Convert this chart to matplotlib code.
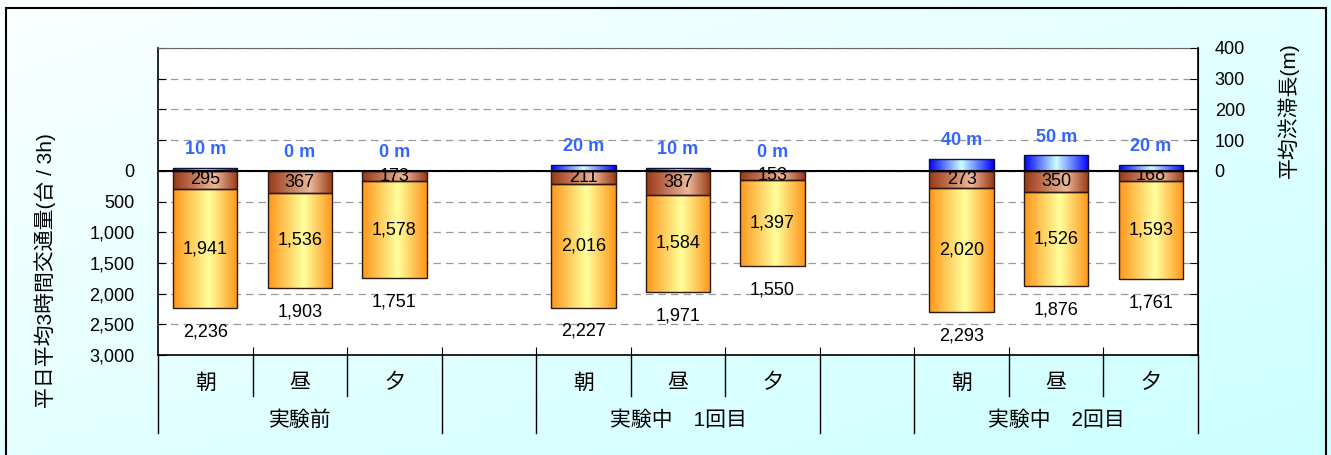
import numpy as np
import matplotlib
matplotlib.use('Agg')
import matplotlib.pyplot as plt
import matplotlib.transforms as mtransforms
from matplotlib.colors import LinearSegmentedColormap
from matplotlib.patches import Rectangle
from matplotlib.ticker import FuncFormatter, MultipleLocator

plt.rcParams['font.family'] = ['Liberation Sans', 'Noto Sans CJK JP']

# データ
periods = ['朝', '昼', '夕'] * 3
groups = ['実験前', '実験中\u30001回目', '実験中\u30002回目']
brown_vals = [295, 367, 173, 211, 387, 153, 273, 350, 168]
orange_vals = [1941, 1536, 1578, 2016, 1584, 1397, 2020, 1526, 1593]
totals = [2236, 1903, 1751, 2227, 1971, 1550, 2293, 1876, 1761]
queue_m = [10, 0, 0, 20, 10, 0, 40, 50, 20]

# 各グループ3本 + グループ間に空きスロット1つ
pos = [g * 4 + i for g in range(3) for i in range(3)]
group_centers = [g * 4 + 1 for g in range(3)]
bar_w = 0.68

W, H = 1331, 455
fig = plt.figure(figsize=(W / 100, H / 100), dpi=100)

# 背景グラデーション（左上 白 → 右下 水色）
bg = fig.add_axes([0, 0, 1, 1], zorder=-10)
xx, yy = np.meshgrid(np.linspace(0, 1, 400), np.linspace(0, 1, 200))
bg_cmap = LinearSegmentedColormap.from_list('bg', ['#fbffff', '#ccffff'])
bg.imshow((xx + yy) / 2, cmap=bg_cmap, aspect='auto', extent=(0, 1, 0, 1), origin='upper')
bg.set_axis_off()
fig.add_artist(Rectangle((6 / W, -0.05), 1320 / W, 1.05 - 8 / H, transform=fig.transFigure,
                         fill=False, ec='black', lw=1.5))

ax = fig.add_axes([158 / W, 1 - 355 / H, 1040 / W, 307 / H])
ax.set_facecolor('white')
ax2 = ax.twinx()

brown_cmap = LinearSegmentedColormap.from_list('brown', [(0, '#993816'), (0.65, '#ebb899'), (1, '#993816')])
orange_cmap = LinearSegmentedColormap.from_list('orange', [(0, '#ff961a'), (0.55, '#ffff9c'), (1, '#ff961a')])
blue_cmap = LinearSegmentedColormap.from_list('blue', [(0, '#0000ff'), (0.5, '#ccffff'), (1, '#0000ff')])


def gradient_fill(axis, bars, cmap):
    # 棒の中を横方向グラデーションで塗る
    for b in bars:
        x0, y0 = b.get_x(), b.get_y()
        w, h = b.get_width(), b.get_height()
        if h == 0:
            continue
        im = axis.imshow(np.linspace(0, 1, 256).reshape(1, -1), cmap=cmap, aspect='auto',
                         extent=(x0, x0 + w, y0, y0 + h), zorder=2.9, interpolation='bilinear')
        im.set_clip_path(b)


b1 = ax.bar(pos, brown_vals, bar_w, bottom=0, facecolor='none', edgecolor='#2a1a10', lw=1, zorder=3)
b2 = ax.bar(pos, orange_vals, bar_w, bottom=brown_vals, facecolor='none', edgecolor='#2a1a10', lw=1, zorder=3)
b3 = ax2.bar(pos, queue_m, bar_w, bottom=0, facecolor='none', edgecolor='#101040', lw=1, zorder=3)
gradient_fill(ax, b1, brown_cmap)
gradient_fill(ax, b2, orange_cmap)
gradient_fill(ax2, b3, blue_cmap)

ax2.axhline(0, color='black', lw=1.5, zorder=5)

# 数値ラベル
for p, b, o, t, q in zip(pos, brown_vals, orange_vals, totals, queue_m):
    ax.text(p, b / 2, f'{b:,}', ha='center', va='center', fontsize=13, zorder=6)
    ax.text(p, b + o / 2, f'{o:,}', ha='center', va='center', fontsize=13, zorder=6)
    ax.text(p, t + 390, f'{t:,}', ha='center', va='center', fontsize=13, zorder=6)
    ax2.text(p, q + 58, f'{q} m', ha='center', va='center', fontsize=13,
             fontweight='bold', color='#3366ff', zorder=6)

# 軸
ax.set_xlim(-0.5, 10.5)
ax.set_ylim(3000, -2000)
ax2.set_ylim(-600, 400)

ax.yaxis.set_major_locator(MultipleLocator(500))
ax.yaxis.set_major_formatter(FuncFormatter(lambda v, _: f'{int(v):,}' if v >= 0 else ''))
ax.tick_params(axis='y', direction='in', length=6, pad=17, labelsize=13)
ax2.yaxis.set_major_locator(MultipleLocator(100))
ax2.yaxis.set_major_formatter(FuncFormatter(lambda v, _: f'{int(v)}' if v >= 0 else ''))
ax2.tick_params(axis='y', direction='in', length=6, pad=12, labelsize=13)

ax.set_xticks([k - 0.5 for k in range(1, 11)])
ax.tick_params(axis='x', direction='in', length=6, labelbottom=False)

ax.set_axisbelow(True)
ax.yaxis.grid(True, linestyle=(0, (6, 4)), color='#9a9a9a', lw=0.9)

for s in ['left', 'bottom']:
    ax.spines[s].set_linewidth(1.2)
ax.spines['top'].set_color('#666666')
for s in ['left', 'bottom', 'top']:
    ax2.spines[s].set_visible(False)
ax2.spines['right'].set_linewidth(1.2)

# 下の区分表（朝/昼/夕 と グループ）
trans = mtransforms.blended_transform_factory(ax.transData, ax.transAxes)
long_lines = (0, 3, 4, 7, 8, 11)
for k in range(12):
    y_end = -0.254 if k in long_lines else -0.1336
    ax.plot([k - 0.5, k - 0.5], [0, y_end], transform=trans, color='black', lw=1, clip_on=False)
for p, lab in zip(pos, periods):
    ax.text(p, -0.091, lab, transform=trans, ha='center', va='center', fontsize=15)
for c, lab in zip(group_centers, groups):
    ax.text(c, -0.2117, lab, transform=trans, ha='center', va='center', fontsize=15)
ax.set_xlim(-0.5, 10.5)

fig.text(45 / W, 1 - 271 / H, '平日平均3時間交通量(台 / 3h)', rotation=90,
         ha='center', va='center', fontsize=15)
fig.text(1288 / W, 1 - 110 / H, '平均渋滞長(m)', rotation=90,
         ha='center', va='center', fontsize=15)

fig.savefig('out.png', dpi=100)
